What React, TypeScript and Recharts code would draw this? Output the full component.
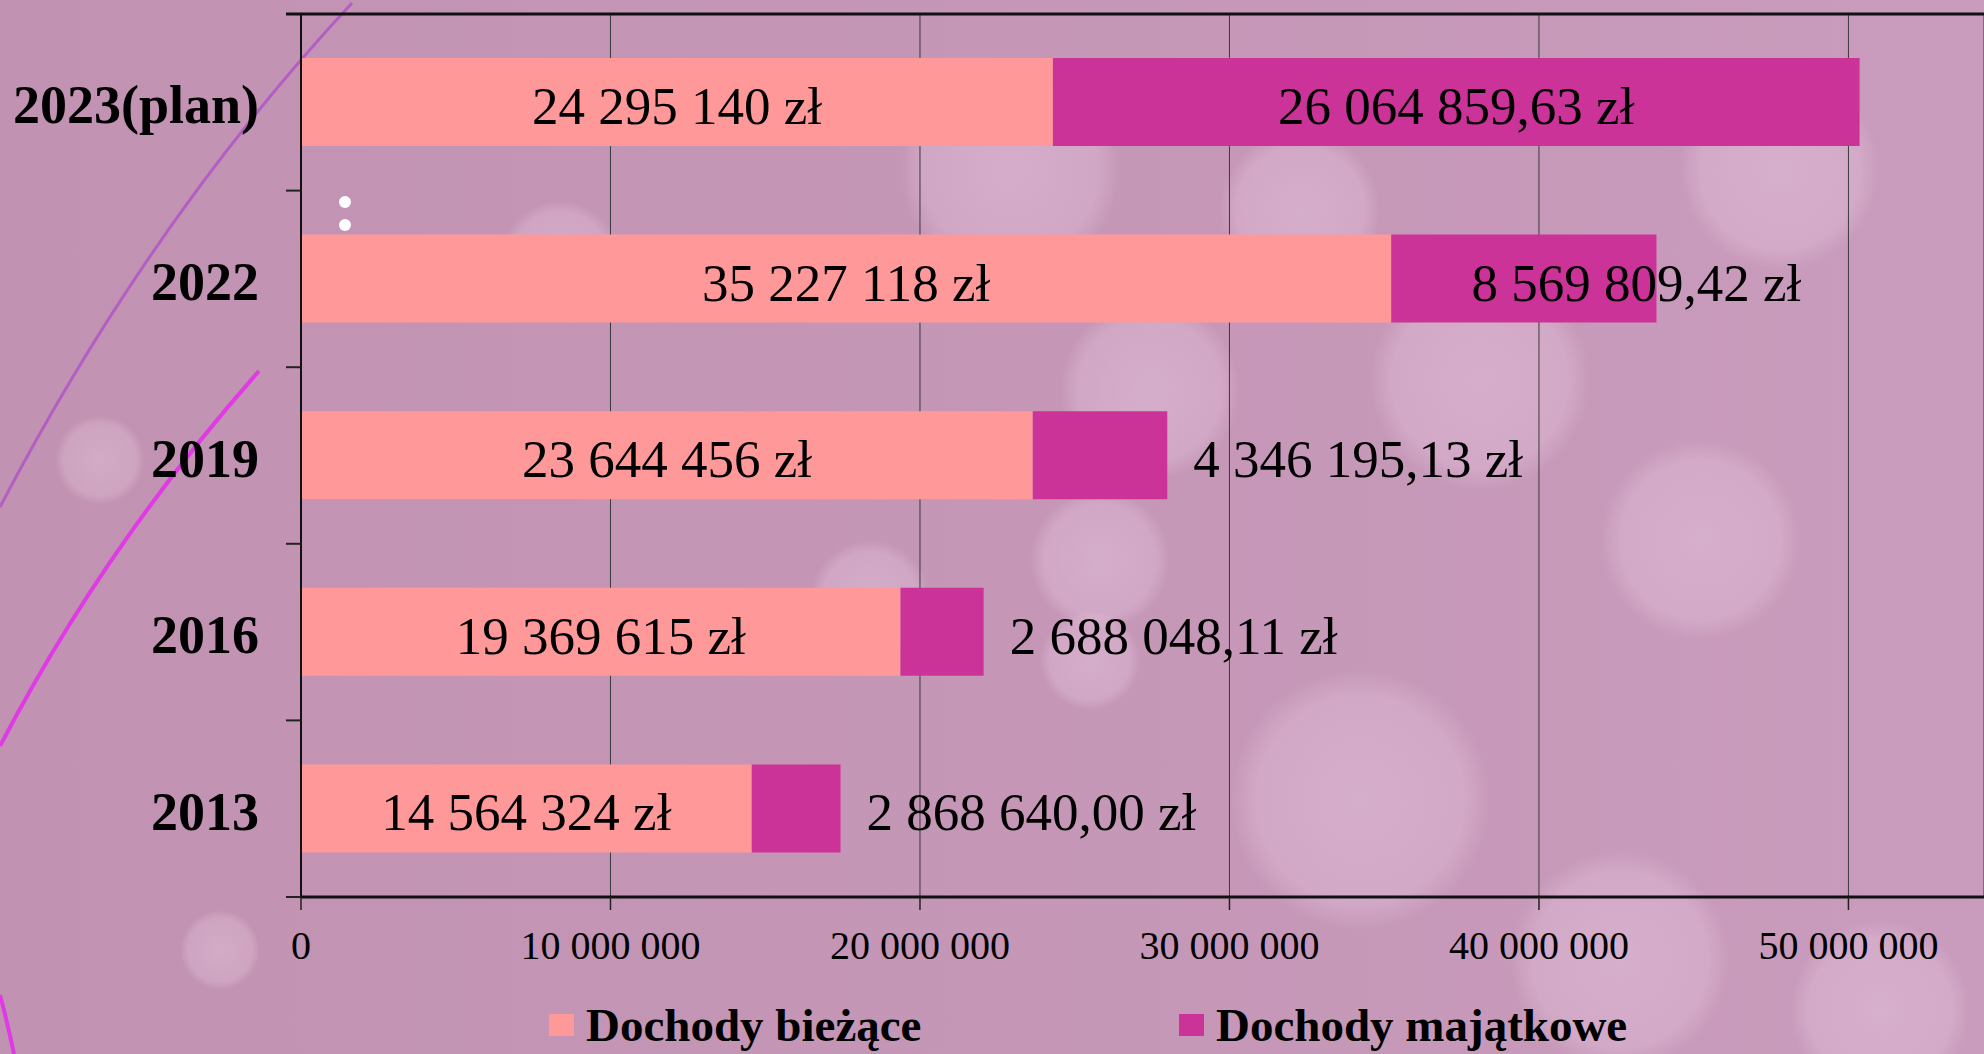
import React from 'react';
import { BarChart, Bar, XAxis, YAxis, CartesianGrid, LabelList, Legend } from 'recharts';

const CATEGORIES = ['2023(plan)', '2022', '2019', '2016', '2013'];
const DOCHODY_BIEZACE = [24295140, 35227118, 23644456, 19369615, 14564324];
const DOCHODY_MAJATKOWE = [26064859.63, 8569809.42, 4346195.13, 2688048.11, 2868640.0];
const X_TICKS = [0, 10000000, 20000000, 30000000, 40000000, 50000000];
const X_MAX = 54380000;

const SERIES_NAMES = ['Dochody bieżące', 'Dochody majątkowe'];
const COLORS = ['#FF9999', '#CC3399'];

const data = CATEGORIES.map((year, i) => ({
  year,
  biezace: DOCHODY_BIEZACE[i],
  majatkowe: DOCHODY_MAJATKOWE[i],
}));

const W = 1984;
const H = 1054;
const TOP = 14;
const X_AXIS_H = 157;
const Y_AXIS_W = 301;
const BAND = (H - TOP - X_AXIS_H) / CATEGORIES.length;
const SERIF = '"Liberation Serif", "Times New Roman", serif';

const groupDigits = (n: number) => String(n).replace(/\B(?=(\d{3})+(?!\d))/g, ' ');

const fmtInt = (v: number) => groupDigits(Math.round(v)) + ' zł';
const fmtDec = (v: number) => {
  const [a, b] = v.toFixed(2).split('.');
  return groupDigits(Number(a)) + ',' + b + ' zł';
};

let ctx: CanvasRenderingContext2D | null = null;
const textWidth = (s: string, font: string) => {
  if (!ctx) ctx = document.createElement('canvas').getContext('2d');
  if (!ctx) return s.length * 26;
  ctx.font = font;
  return ctx.measureText(s).width;
};

const LABEL_FONT = 53;

const BiezaceLabel = (props: any) => {
  const { x, y, width, height, value } = props;
  return (
    <text x={x + width / 2} y={y + height / 2 + 22} textAnchor="middle"
      fontFamily={SERIF} fontSize={LABEL_FONT} fill="#000">
      {fmtInt(value)}
    </text>
  );
};

// wide enough -> centred; a bit short -> straddles the bar end; too short -> right of bar
const MajatkoweLabel = (props: any) => {
  const { x, y, width, height, value } = props;
  const txt = fmtDec(value);
  const tw = textWidth(txt, `${LABEL_FONT}px "Liberation Serif"`);
  let tx = x + width / 2;
  let anchor = 'middle';
  if (width < tw + 20) {
    if (width > tw * 0.6) {
      tx = x + width - 20;
    } else {
      tx = x + width + 26;
      anchor = 'start';
    }
  }
  return (
    <text x={tx} y={y + height / 2 + 22} textAnchor={anchor as any}
      fontFamily={SERIF} fontSize={LABEL_FONT} fill="#000">
      {txt}
    </text>
  );
};

const YTick = (props: any) => {
  const { x, y, payload, index } = props;
  const last = index === CATEGORIES.length - 1;
  const first = index === 0;
  return (
    <g>
      <text x={x} y={y + 21} textAnchor="end" fontFamily={SERIF} fontSize={54}
        fontWeight="bold" fill="#000">
        {payload.value}
      </text>
      {first ? (
        <line x1={Y_AXIS_W - 15} x2={W} y1={y - BAND / 2} y2={y - BAND / 2}
          stroke="#111" strokeWidth={3} />
      ) : (
        <line x1={Y_AXIS_W - 15} x2={Y_AXIS_W} y1={y - BAND / 2} y2={y - BAND / 2}
          stroke="#222" strokeWidth={2} />
      )}
      {last && (
        <line x1={Y_AXIS_W - 15} x2={Y_AXIS_W} y1={y + BAND / 2} y2={y + BAND / 2}
          stroke="#222" strokeWidth={2} />
      )}
    </g>
  );
};

const LegendBox = () => (
  <div style={{ display: 'flex', alignItems: 'center', height: 46 }}>
    {SERIES_NAMES.map((name, i) => (
      <div key={name} style={{ display: 'flex', alignItems: 'center', width: i === 0 ? 630 : 'auto' }}>
        <span style={{ display: 'inline-block', width: 25, height: 22, background: COLORS[i], marginRight: 12 }} />
        <span style={{ fontFamily: SERIF, fontWeight: 'bold', fontSize: 47, lineHeight: '46px', color: '#000' }}>
          {name}
        </span>
      </div>
    ))}
  </div>
);

const bokeh = [
  [1010, 170, 110], [1150, 390, 90], [1480, 380, 110], [1700, 540, 100], [1360, 800, 130],
  [1620, 960, 110], [1880, 1010, 90], [1300, 210, 80], [560, 260, 60], [870, 600, 60],
  [1780, 170, 100], [1100, 560, 70], [100, 460, 45], [220, 950, 40], [1090, 660, 50],
];

const Background = () => (
  <svg width={W} height={H} style={{ position: 'absolute', left: 0, top: 0 }}>
    <defs>
      <linearGradient id="bg" x1="0" y1="0" x2="1" y2="0">
        <stop offset="0" stopColor="#c192b1" />
        <stop offset="1" stopColor="#c99bbc" />
      </linearGradient>
      <radialGradient id="bk">
        <stop offset="0" stopColor="#f2d8ee" stopOpacity={0.35} />
        <stop offset="0.8" stopColor="#f2d8ee" stopOpacity={0.25} />
        <stop offset="1" stopColor="#f2d8ee" stopOpacity={0} />
      </radialGradient>
    </defs>
    <rect width={W} height={H} fill="url(#bg)" />
    {bokeh.map(([cx, cy, r], i) => (
      <circle key={i} cx={cx} cy={cy} r={r} fill="url(#bk)" />
    ))}
    <path d="M 352 3 Q 150 220 0 507" fill="none" stroke="#b35ec4" strokeWidth={3} />
    <path d="M 259 371 Q 105 545 0 746" fill="none" stroke="#e03ae6" strokeWidth={4} />
    <path d="M 0 995 Q 8 1025 14 1054" fill="none" stroke="#e03ae6" strokeWidth={4} />
    <circle cx={345} cy={202} r={6} fill="#fff" />
    <circle cx={345} cy={225} r={6} fill="#fff" />
  </svg>
);

export default function App() {
  return (
    <div style={{ position: 'absolute', left: 0, top: 0, width: W, height: H, overflow: 'hidden' }}>
      <Background />
      <div style={{ position: 'absolute', left: 0, top: 0 }}>
        <BarChart layout="vertical" width={W} height={H} data={data}
          margin={{ top: TOP, right: 0, bottom: 0, left: 0 }}>
          <CartesianGrid horizontal={false} stroke="#3a3a3a" strokeWidth={1} />
          <XAxis type="number" domain={[0, X_MAX]} ticks={X_TICKS} allowDataOverflow interval={0}
            height={X_AXIS_H} tickSize={13} tickMargin={21}
            tickFormatter={(v: number) => groupDigits(v)}
            tick={{ fill: '#000', fontSize: 40, fontFamily: SERIF }}
            tickLine={{ stroke: '#222', strokeWidth: 1.5 }}
            axisLine={{ stroke: '#111', strokeWidth: 3 }} />
          <YAxis type="category" dataKey="year" width={Y_AXIS_W} interval={0}
            tickLine={false} tickSize={0} tickMargin={42} tick={<YTick />}
            axisLine={{ stroke: '#111', strokeWidth: 2 }} />
          <Legend layout="horizontal" verticalAlign="middle" align="center"
            wrapperStyle={{ left: 549, top: 1002, width: 1200, height: 46 }}
            content={() => <LegendBox />} />
          <Bar dataKey="biezace" name={SERIES_NAMES[0]} stackId="a" fill={COLORS[0]}
            barSize={88} isAnimationActive={false}>
            <LabelList dataKey="biezace" content={BiezaceLabel} />
          </Bar>
          <Bar dataKey="majatkowe" name={SERIES_NAMES[1]} stackId="a" fill={COLORS[1]}
            barSize={88} isAnimationActive={false}>
            <LabelList dataKey="majatkowe" content={MajatkoweLabel} />
          </Bar>
        </BarChart>
      </div>
    </div>
  );
}
